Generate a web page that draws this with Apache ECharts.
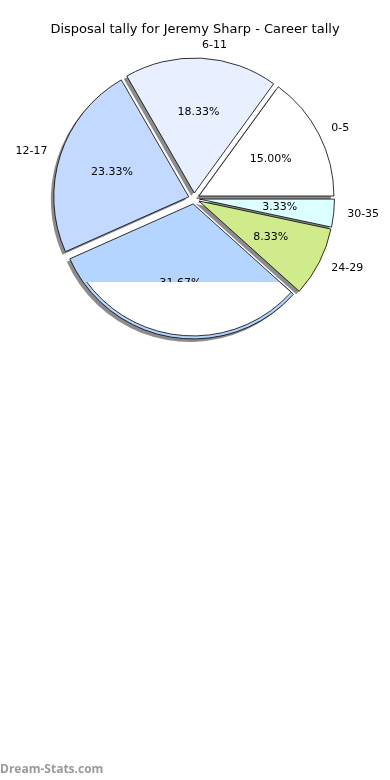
<!DOCTYPE html>
<html><head><meta charset="utf-8">
<script src="https://cdn.jsdelivr.net/npm/echarts@6/dist/echarts.min.js"></script>
<style>html,body{margin:0;padding:0;background:#fff}#c{width:390px;height:780px}</style>
</head><body><div id="c"></div>
<script>
const titleText = 'Disposal tally for Jeremy Sharp - Career tally';
const categories = ['0-5', '6-11', '12-17', '18-23', '24-29', '30-35'];
const games = [9, 11, 14, 19, 5, 2];
const sliceColors = ['#ffffff', '#e8f0ff', '#c4d9ff', '#b4d5ff', '#d0eb8c', '#dcffff'];
const hiddenOuterLabels = ['18-23'];
const maskedCategory = '18-23';

const FONT = 'DejaVu Sans';
const CX = 194, CY = 198.5, R = 135, OFF = 5.5;
const total = games.reduce((a, b) => a + b, 0);

const chart = echarts.init(document.getElementById('c'), null, {renderer: 'canvas'});

const baseSeries = {
  type: 'pie',
  center: [CX, CY],
  radius: [0, R],
  startAngle: 0,
  clockwise: false,
  selectedMode: 'multiple',
  selectedOffset: OFF,
  avoidLabelOverlap: false,
  animation: false,
  emphasis: {disabled: true},
  labelLine: {show: false},
};

const mkData = (extra) => categories.map((c, i) => Object.assign(
  {name: c, value: games[i], selected: true}, extra ? extra(c, i) : {}));

const cut = 276.5;
const fillGrad = new echarts.graphic.LinearGradient(0, cut - 20, 0, cut + 20, [
  {offset: 0, color: 'rgba(255,255,255,0)'}, {offset: 0.5, color: 'rgba(255,255,255,0)'},
  {offset: 0.5, color: '#ffffff'}, {offset: 1, color: '#ffffff'}], true);
const strokeGrad = new echarts.graphic.LinearGradient(0, cut - 20, 0, cut + 20, [
  {offset: 0, color: 'rgba(0,0,0,0)'}, {offset: 0.5, color: 'rgba(0,0,0,0)'},
  {offset: 0.5, color: '#000000'}, {offset: 1, color: '#000000'}], true);

chart.setOption({
  backgroundColor: '#ffffff',
  animation: false,
  title: {
    text: titleText, left: 'center', top: 18,
    textStyle: {fontFamily: FONT, fontSize: 13, fontWeight: 'normal', color: '#000'}
  },
  graphic: [{
    type: 'text', left: 0, top: 764,
    style: {text: 'Dream-Stats.com', fill: '#9a9a9a', font: 'bold 12px "Open Sans"'}
  }],
  series: [
    Object.assign({}, baseSeries, {
      name: 'shadow', z: 1, silent: true,
      center: [CX - 3, CY + 3],
      label: {show: false},
      itemStyle: {color: 'rgba(0,0,0,0.45)', borderWidth: 0},
      data: mkData()
    }),
    Object.assign({}, baseSeries, {
      name: 'main', z: 2,
      label: {show: false},
      itemStyle: {borderColor: '#000', borderWidth: 0.8},
      select: {itemStyle: {borderColor: '#000', borderWidth: 0.8}},
      data: mkData((c, i) => ({itemStyle: {color: sliceColors[i]}}))
    }),
    Object.assign({}, baseSeries, {
      name: 'mask', z: 3, silent: true,
      radius: [0, R - 3],
      label: {show: false},
      data: mkData((c) => ({
        itemStyle: c === maskedCategory
          ? {color: fillGrad, borderColor: strokeGrad, borderWidth: 0.8}
          : {color: 'rgba(0,0,0,0)', borderColor: 'rgba(0,0,0,0)', borderWidth: 0}
      }))
    }),
    Object.assign({}, baseSeries, {
      name: 'inner', z: 2, silent: true,
      radius: [R * 0.15, R],
      itemStyle: {color: 'rgba(0,0,0,0)', borderWidth: 0},
      label: {show: true, position: 'inner', fontFamily: FONT, fontSize: 11, color: '#000',
        formatter: p => (p.value / total * 100).toFixed(2) + '%'},
      data: mkData()
    }),
    Object.assign({}, baseSeries, {
      name: 'outer', z: 2, silent: true,
      itemStyle: {color: 'rgba(0,0,0,0)', borderWidth: 0},
      labelLine: {show: false, length: R * 0.1, length2: 0},
      label: {show: true, position: 'outside', fontFamily: FONT, fontSize: 11, color: '#000',
        distanceToLabelLine: 0, formatter: '{b}'},
      data: mkData((c) => ({label: {show: hiddenOuterLabels.indexOf(c) < 0}}))
    })
  ]
});
</script></body></html>
